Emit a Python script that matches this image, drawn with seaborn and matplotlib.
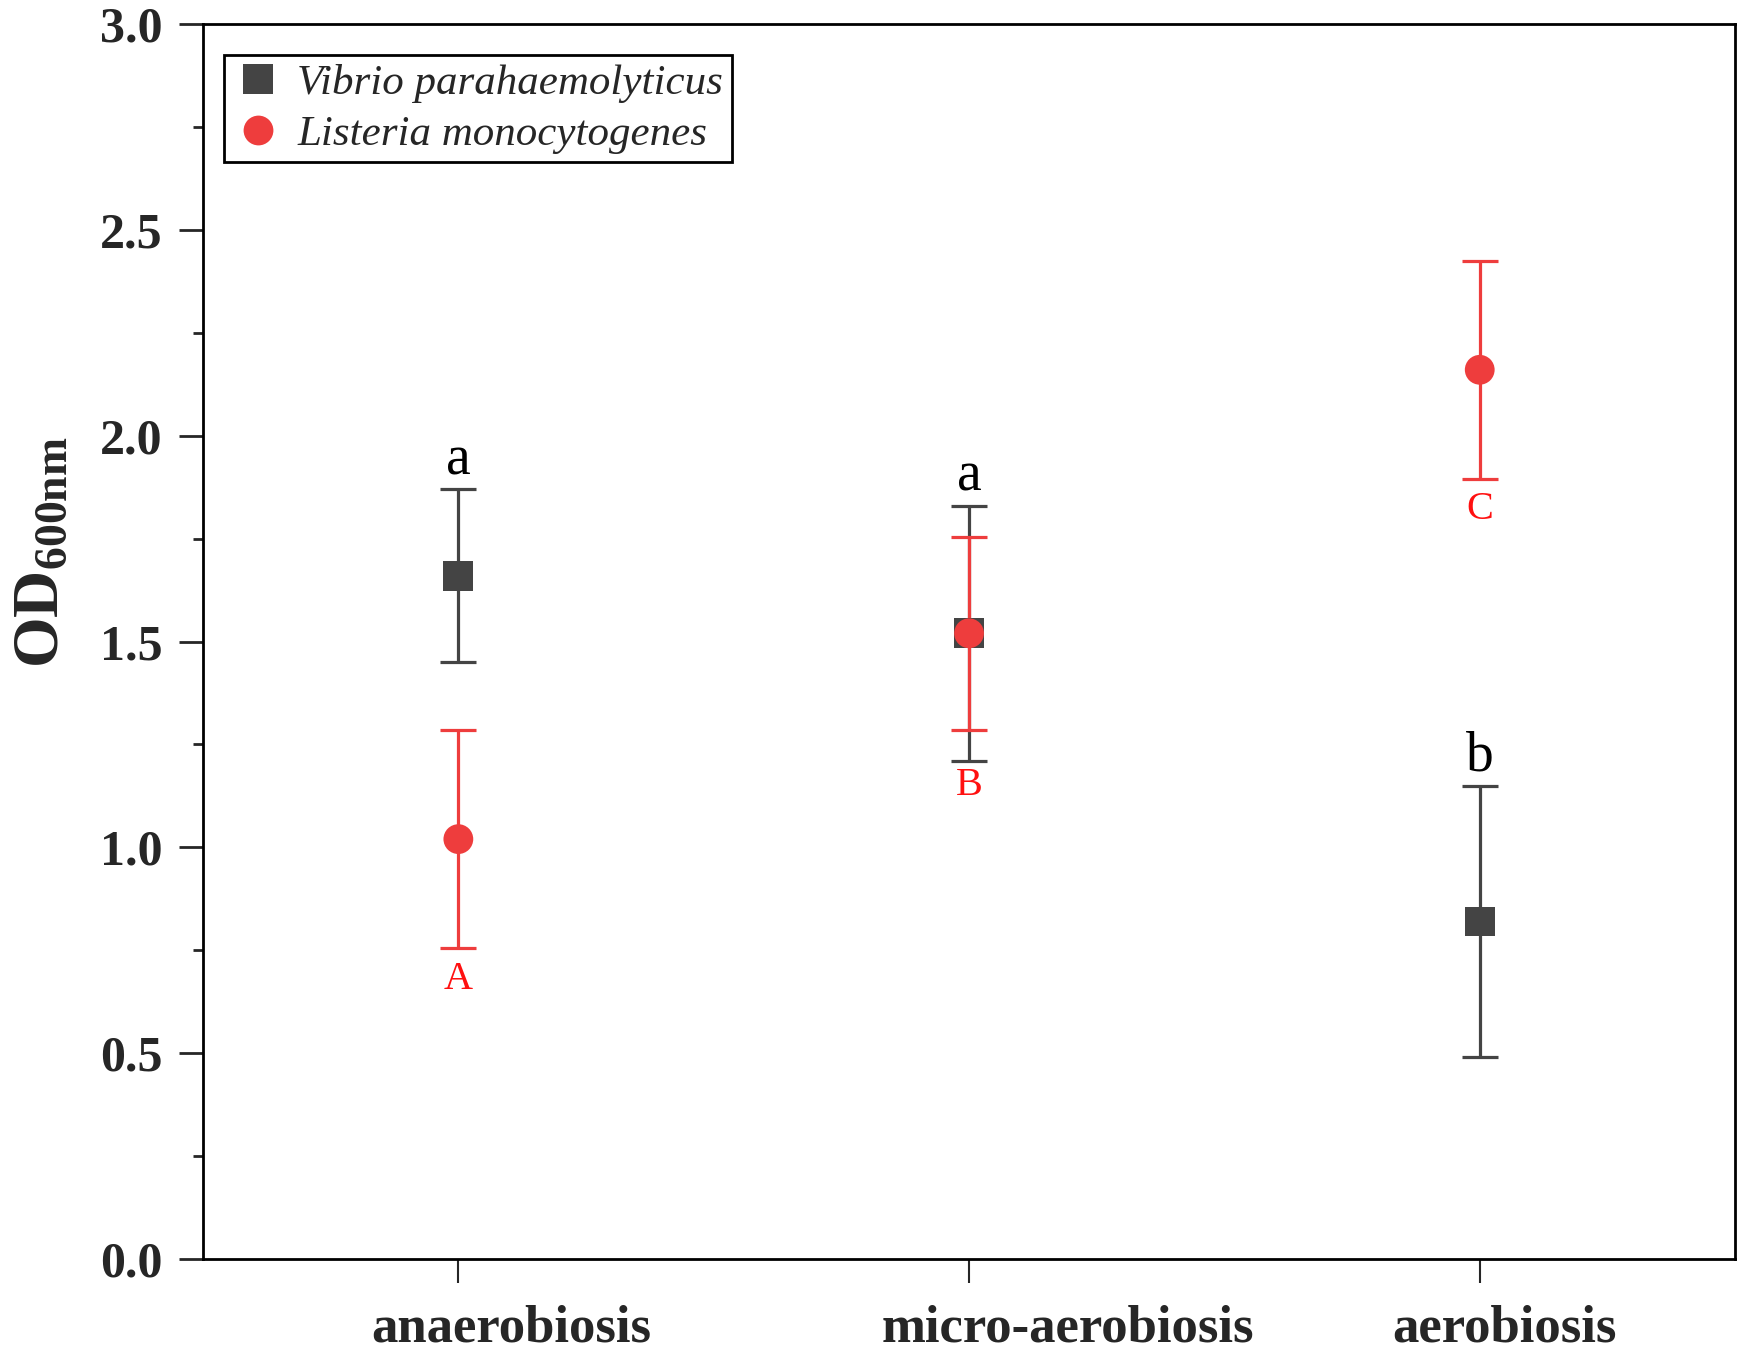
import matplotlib
matplotlib.use("Agg")
import matplotlib.pyplot as plt
import seaborn as sns
import pandas as pd
from matplotlib.ticker import MultipleLocator, FormatStrFormatter
from matplotlib.transforms import ScaledTranslation

# data
conditions = ['anaerobiosis', 'micro-aerobiosis', 'aerobiosis']
species = ['Vibrio parahaemolyticus', 'Listeria monocytogenes']
vibrio_mean = [1.66, 1.52, 0.82]
vibrio_err = [0.21, 0.31, 0.33]
listeria_mean = [1.02, 1.52, 2.16]
listeria_err = [0.265, 0.235, 0.265]
vibrio_letters = ['a', 'a', 'b']
vibrio_letter_y = [1.94, 1.90, 1.22]
listeria_letters = ['A', 'B', 'C']
listeria_letter_y = [0.68, 1.15, 1.82]

gray = '#444444'
red = '#EE3D3D'

sns.set_style('ticks')
plt.rcParams['font.family'] = ['Liberation Serif', 'DejaVu Serif']
plt.rcParams['mathtext.fontset'] = 'custom'
plt.rcParams['mathtext.rm'] = 'Liberation Serif'
plt.rcParams['mathtext.bf'] = 'Liberation Serif:bold'
plt.rcParams['mathtext.it'] = 'Liberation Serif:italic'

df = pd.DataFrame({
    'condition': conditions * 2,
    'species': [species[0]] * 3 + [species[1]] * 3,
    'od': vibrio_mean + listeria_mean,
    'err': vibrio_err + listeria_err,
})

fig = plt.figure(figsize=(17.41, 13.62), dpi=100)
ax = fig.add_axes([0.1166, 0.0756, 0.88, 0.9068])

# error bars first, markers on top (red over gray)
for sp, col in zip(species, [gray, red]):
    sub = df[df['species'] == sp]
    ax.errorbar(sub['condition'], sub['od'], yerr=sub['err'], fmt='none',
                ecolor=col, elinewidth=2.3, capsize=13, capthick=2.3, zorder=2)

sns.scatterplot(data=df, x='condition', y='od', hue='species', style='species',
                palette={species[0]: gray, species[1]: red},
                markers={species[0]: 's', species[1]: 'o'},
                s=460, linewidth=0, ax=ax, zorder=3, legend=True)

# significance letters
for i, c in enumerate(conditions):
    ax.text(c, vibrio_letter_y[i], vibrio_letters[i], ha='center', va='center',
            fontsize=40, color='black')
    ax.text(c, listeria_letter_y[i], listeria_letters[i], ha='center', va='center',
            fontsize=29, color='#FF1010')

ax.set_xlim(-0.5, 2.5)
ax.set_ylim(0, 3.0)
ax.yaxis.set_major_locator(MultipleLocator(0.5))
ax.yaxis.set_minor_locator(MultipleLocator(0.25))
ax.yaxis.set_major_formatter(FormatStrFormatter('%.1f'))

for side in ['left', 'right', 'top', 'bottom']:
    ax.spines[side].set_linewidth(2.0)
    ax.spines[side].set_color('black')

ax.tick_params(axis='y', which='major', direction='out', length=17, width=2,
               pad=12, labelsize=36, right=False)
ax.tick_params(axis='y', which='minor', direction='out', length=7, width=2, right=False)
ax.tick_params(axis='x', which='major', direction='out', length=17, width=1.5,
               pad=16, labelsize=38, top=False)
for lab in ax.get_yticklabels():
    lab.set_fontweight('bold')
# category labels sit left-aligned a little before each tick, as in the original
shift = ScaledTranslation(-0.87, 0, fig.dpi_scale_trans)
for lab in ax.get_xticklabels():
    lab.set_fontweight('bold')
    lab.set_ha('left')
    lab.set_transform(lab.get_transform() + shift)

ax.set_xlabel('')
ax.set_ylabel(r'$\mathbf{OD}_{\mathbf{600nm}}$', fontsize=47)
ax.yaxis.set_label_coords(-0.105, 0.572)
ax.yaxis.label.set_va('center')

handles, labels = ax.get_legend_handles_labels()
leg = ax.legend(handles, labels, loc='upper left', bbox_to_anchor=(0.0137, 0.975),
                borderaxespad=0, frameon=True, fancybox=False, edgecolor='black',
                framealpha=1,
                prop={'family': 'Liberation Serif', 'style': 'italic', 'size': 31},
                handletextpad=0.3, borderpad=0.2, labelspacing=0.28,
                markerscale=1.0, handlelength=1.2)
leg.get_frame().set_linewidth(2)

fig.savefig('out.png', dpi=100)
